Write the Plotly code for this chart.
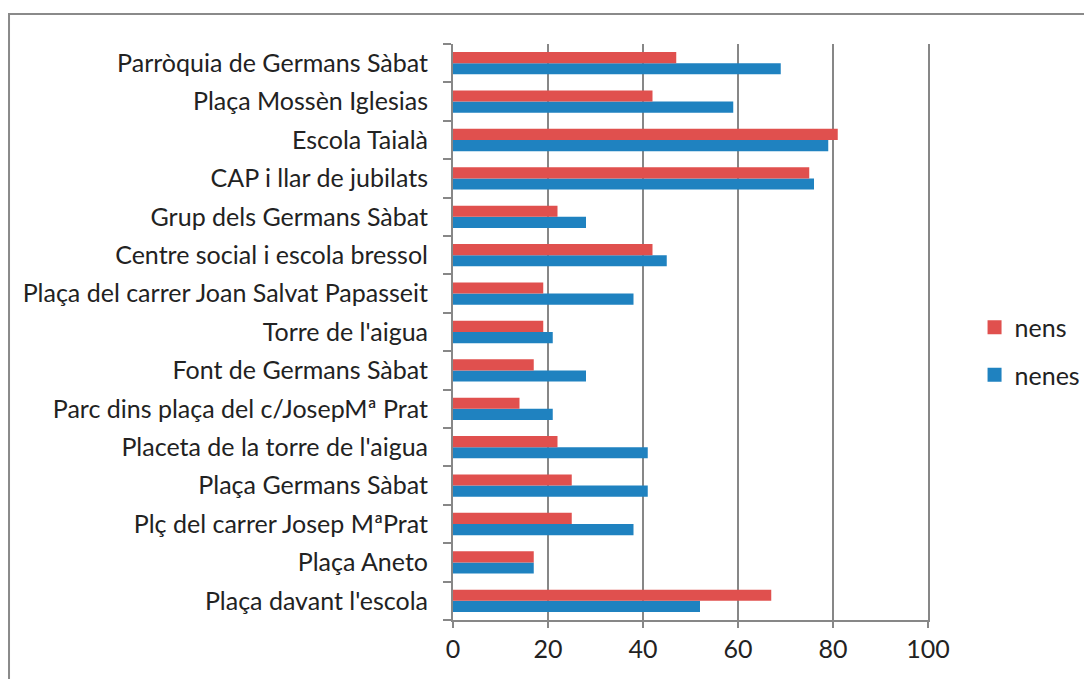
import plotly.graph_objects as go

categories = [
    "Plaça davant l'escola",
    "Plaça Aneto",
    "Plç del carrer Josep MªPrat",
    "Plaça Germans Sàbat",
    "Placeta de la torre de l'aigua",
    "Parc dins plaça del c/JosepMª Prat",
    "Font de Germans Sàbat",
    "Torre de l'aigua",
    "Plaça del carrer Joan Salvat Papasseit",
    "Centre social i escola bressol",
    "Grup dels Germans Sàbat",
    "CAP i llar de jubilats",
    "Escola Taialà",
    "Plaça Mossèn Iglesias",
    "Parròquia de Germans Sàbat",
]
nens = [67, 17, 25, 25, 22, 14, 17, 19, 19, 42, 22, 75, 81, 42, 47]
nenes = [52, 17, 38, 41, 41, 21, 28, 21, 38, 45, 28, 76, 79, 59, 69]
x_ticks = [0, 20, 40, 60, 80, 100]
RED, BLUE = "#e0504e", "#1f82c0"

FONT = "Lato"
fig = go.Figure()
# legend-only entries with larger square swatches (nens listed first)
fig.add_trace(go.Scatter(x=[None], y=[None], mode="markers", name="nens", legendgroup="a",
                         marker=dict(symbol="square", size=14, color=RED)))
fig.add_trace(go.Scatter(x=[None], y=[None], mode="markers", name="nenes", legendgroup="b",
                         marker=dict(symbol="square", size=14, color=BLUE)))
# bars: nenes first so it sits at the bottom of each pair
fig.add_trace(go.Bar(y=categories, x=nenes, name="nenes", orientation="h",
                     legendgroup="b", showlegend=False,
                     marker=dict(color=BLUE, line=dict(width=0))))
fig.add_trace(go.Bar(y=categories, x=nens, name="nens", orientation="h",
                     legendgroup="a", showlegend=False,
                     marker=dict(color=RED, line=dict(width=0))))

# page body has an 8px margin -> shift margins
L, T = 453 - 8, 44 - 8
R = 1092 - 928 + 8
B = 679 - 620 + 8
fig.update_layout(
    width=1092, height=679,
    paper_bgcolor="white", plot_bgcolor="white",
    barmode="group", bargap=0.42, bargroupgap=0,
    margin=dict(l=L, r=R, t=T, b=B, pad=0, autoexpand=False),
    font=dict(family=FONT, size=25, color="#222222"),
    legend=dict(traceorder="grouped", x=1.098, y=0.467, xanchor="left",
                yanchor="middle",
                font=dict(size=25, family=FONT, color="#222222"), itemwidth=30,
                tracegroupgap=12, bgcolor="rgba(0,0,0,0)"),
    showlegend=True,
)
fig.update_xaxes(range=[0, 100], tickvals=x_ticks, showgrid=True, gridcolor="#878787",
                 gridwidth=2, showline=True, linecolor="#878787", linewidth=2,
                 ticks="outside", ticklen=6, tickcolor="#878787", tickwidth=2,
                 zeroline=False, mirror=False, tickfont=dict(size=25, family=FONT),
                 fixedrange=True)
fig.update_yaxes(type="category", categoryorder="array", categoryarray=categories,
                 showgrid=False, showline=True, linecolor="#878787", linewidth=2,
                 mirror=True,
                 ticks="outside", ticklen=8, tickcolor="#878787", tickwidth=2,
                 tickson="boundaries", tickfont=dict(size=25, family=FONT),
                 ticklabelstandoff=18, fixedrange=True)
fig.add_shape(type="rect", xref="paper", yref="paper",
              x0=-0.9347, x1=1.5, y0=-0.3, y1=1.052,
              line=dict(color="#8a8a8a", width=2), layer="below")
fig.write_html("out.html")
